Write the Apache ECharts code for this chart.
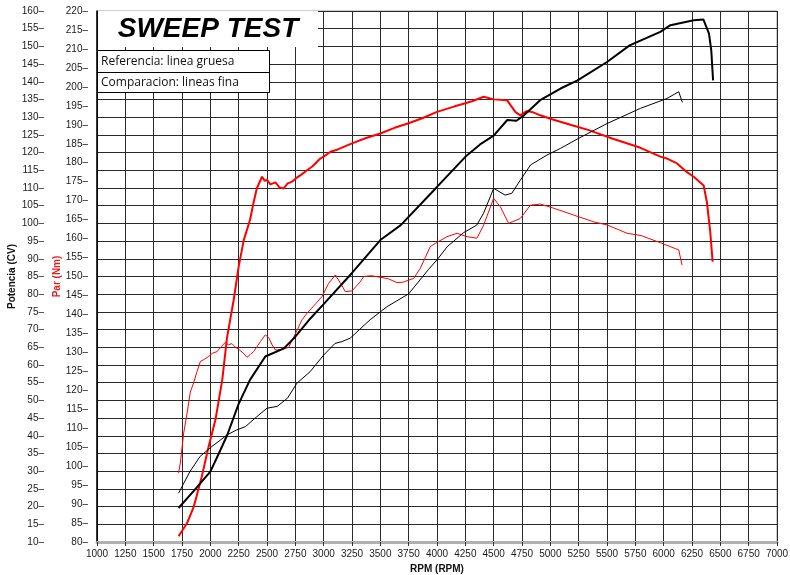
<!DOCTYPE html>
<html>
<head>
<meta charset="utf-8">
<script src="https://cdn.jsdelivr.net/npm/echarts@6/dist/echarts.min.js"></script>
<style>
html,body{margin:0;padding:0;background:#fff;}
#c{width:790px;height:575px;}
</style>
</head>
<body>
<div id="c"></div>
<script>
// ---- data ----
const rpmTicks = [1000,1250,1500,1750,2000,2250,2500,2750,3000,3250,3500,3750,4000,4250,4500,4750,5000,5250,5500,5750,6000,6250,6500,6750,7000];

// Potencia reference (thick black), CV
const powerRef = [[1720,19.6],[1850,24.3],[2000,29.9],[2075,35],[2150,40.3],[2250,49],[2350,55.8],[2485,62.4],[2650,64.7],[2750,68],[2870,72.7],[3000,77.2],[3250,86],[3500,95.3],[3680,99.5],[4000,110.3],[4250,118.8],[4380,122.3],[4500,124.8],[4620,129.2],[4700,129],[4770,130.6],[4910,134.8],[5090,138.1],[5240,140.4],[5500,145.6],[5700,150.3],[5970,154.1],[6060,156],[6265,157.4],[6350,157.6],[6400,153.6],[6420,148.9],[6436,140.4]];

// Potencia comparison (thin black), CV
const powerCmp = [[1720,23.8],[1820,29.9],[1910,34.2],[2015,37],[2150,40.3],[2235,41.7],[2310,42.6],[2410,45.4],[2500,47.8],[2590,48.3],[2680,50.6],[2765,54.9],[2880,58.1],[3000,62.8],[3100,66.1],[3160,66.6],[3235,67.6],[3410,72.8],[3560,76.5],[3750,80.1],[3925,87],[4000,89.7],[4090,93.4],[4235,97.4],[4350,99.5],[4410,102.8],[4500,109.9],[4600,108],[4660,108.5],[4735,112.2],[4825,116.5],[4970,119.3],[5090,121.2],[5236,123.8],[5500,128.2],[5795,132.5],[6030,135.3],[6133,137.2],[6165,134.2]];

// Par reference (thick red), Nm
const torqueRef = [[1720,81.5],[1795,85],[1855,89.4],[1925,97.3],[1985,105.2],[2045,112.2],[2105,122.7],[2147,133.8],[2206,143.8],[2250,152.6],[2295,159.6],[2350,164.9],[2380,169.3],[2410,173.2],[2456,176.3],[2480,175.2],[2500,175.5],[2530,174.3],[2574,174.8],[2610,173.5],[2647,173.2],[2680,174.5],[2721,175],[2760,176],[2800,176.8],[2853,178],[2900,179],[2970,181.1],[3000,181.6],[3060,182.9],[3125,183.5],[3250,185.1],[3375,186.5],[3500,187.7],[3625,189.2],[3750,190.4],[3875,191.8],[4000,193.4],[4150,194.8],[4310,196.2],[4412,197.4],[4500,196.7],[4618,196.5],[4691,193.4],[4735,192.5],[4790,193.6],[4838,193.4],[4912,192.5],[5000,191.6],[5088,190.8],[5200,189.8],[5340,188.6],[5545,186.4],[5790,184],[5971,181.6],[6030,181.1],[6118,179.8],[6206,177.5],[6265,176.3],[6353,174],[6382,169.5],[6411,161.8],[6432,153.9]];

// Par comparison (thin red), Nm
const torqueCmp = [[1720,98.2],[1735,100.8],[1765,108.7],[1795,114],[1823,119.5],[1853,122],[1882,124.9],[1912,127.6],[1950,128.2],[1985,128.9],[2020,129.8],[2059,130.2],[2095,131.5],[2132,132.6],[2160,132],[2191,132.3],[2220,131.4],[2250,130.8],[2290,129.8],[2324,128.7],[2355,129.5],[2382,130.2],[2441,132.8],[2485,134.6],[2515,133.9],[2545,132],[2574,130.6],[2633,130.8],[2691,131.3],[2765,135.8],[2809,138.6],[2853,140.3],[2920,142.5],[2985,144.7],[3044,148.2],[3103,150.4],[3150,148.2],[3191,146],[3250,146.2],[3323,148.6],[3353,150],[3420,150.2],[3500,149.8],[3570,149.4],[3647,148.4],[3700,148.5],[3794,149.5],[3850,152],[3941,157.9],[4000,159],[4088,160.5],[4177,161.4],[4265,160.5],[4353,160.1],[4412,163.6],[4500,170.6],[4559,168.4],[4632,164],[4735,165.3],[4824,168.8],[4912,169.1],[5030,168],[5206,166.2],[5382,164.4],[5500,163.6],[5677,161.4],[5800,160.8],[5971,158.9],[6133,157],[6162,153]];

const titleText = 'SWEEP TEST';
const legendLines = ['Referencia: linea gruesa', 'Comparacion: lineas fina'];

// ---- chart ----
const chart = echarts.init(document.getElementById('c'));
const labelFont = {fontFamily: 'Liberation Sans, Arial, sans-serif', fontSize: 10, color: '#1a1a1a'};

chart.setOption({
  animation: false,
  backgroundColor: '#ffffff',
  grid: {left: 97, right: 13, top: 11, bottom: 33, show: true, borderColor: '#9a9a9a', borderWidth: 1, containLabel: false, outerBoundsMode: 'none'},
  xAxis: {
    type: 'value', min: 1000, max: 7000, interval: 250,
    name: 'RPM (RPM)', nameLocation: 'middle', nameGap: 22,
    nameTextStyle: {fontFamily: 'Liberation Sans, Arial, sans-serif', fontSize: 10, fontWeight: 'bold', color: '#111'},
    axisLine: {lineStyle: {color: '#b0b0b0', width: 3}},
    axisTick: {show: true, length: 4, lineStyle: {color: '#333'}},
    axisLabel: Object.assign({margin: 7, formatter: v => String(v)}, labelFont),
    splitLine: {show: true, lineStyle: {color: '#2a2a2a', width: 1}}
  },
  yAxis: [
    {
      type: 'value', min: 10, max: 160, interval: 5, position: 'left',
      name: 'Potencia (CV)', nameLocation: 'middle', nameGap: 80, nameRotate: 90, nameMoveOverlap: false,
      nameTextStyle: {fontFamily: 'Liberation Sans, Arial, sans-serif', fontSize: 10, fontWeight: 'bold', color: '#111'},
      axisLine: {show: true, lineStyle: {color: '#000', width: 1.5}},
      axisTick: {show: false},
      axisLabel: Object.assign({margin: 53, formatter: v => v + '–'}, labelFont),
      splitLine: {show: true, lineStyle: {color: '#2a2a2a', width: 1}}
    },
    {
      type: 'value', min: 80, max: 220, interval: 5, position: 'left',
      name: 'Par (Nm)', nameLocation: 'middle', nameGap: 35, nameRotate: 90, nameMoveOverlap: false,
      nameTextStyle: {fontFamily: 'Liberation Sans, Arial, sans-serif', fontSize: 10, fontWeight: 'bold', color: '#e02020'},
      axisLine: {show: false},
      axisTick: {show: false},
      axisLabel: Object.assign({margin: 9, formatter: v => v + '–'}, labelFont),
      splitLine: {show: false}
    }
  ],
  series: [
    {type: 'line', name: 'Par ref', yAxisIndex: 1, data: torqueRef, showSymbol: false, lineStyle: {color: '#ff0000', width: 2}, z: 3},
    {type: 'line', name: 'Par cmp', yAxisIndex: 1, data: torqueCmp, showSymbol: false, lineStyle: {color: '#ff0000', width: 1}, z: 3},
    {type: 'line', name: 'Potencia ref', yAxisIndex: 0, data: powerRef, showSymbol: false, lineStyle: {color: '#000000', width: 2}, z: 4},
    {type: 'line', name: 'Potencia cmp', yAxisIndex: 0, data: powerCmp, showSymbol: false, lineStyle: {color: '#000000', width: 1}, z: 4}
  ],
  graphic: [
    {type: 'rect', z: 100, shape: {x: 98, y: 11, width: 220, height: 36}, style: {fill: '#ffffff'}},
    {type: 'text', z: 101, x: 208, y: 29, style: {text: titleText, fill: '#000', font: 'italic bold 28px "Liberation Sans", Arial, sans-serif', align: 'center', verticalAlign: 'middle'}},
    {type: 'rect', z: 100, shape: {x: 97.5, y: 50.5, width: 172, height: 42}, style: {fill: '#ffffff', stroke: '#000', lineWidth: 1}},
    {type: 'line', z: 101, shape: {x1: 97.5, y1: 72.5, x2: 269.5, y2: 72.5}, style: {stroke: '#000', lineWidth: 1}},
    {type: 'text', z: 101, x: 101, y: 62, style: {text: legendLines[0], fill: '#111', font: '12px "Open Sans", "Noto Sans", sans-serif', verticalAlign: 'middle'}},
    {type: 'text', z: 101, x: 101, y: 83, style: {text: legendLines[1], fill: '#111', font: '12px "Open Sans", "Noto Sans", sans-serif', verticalAlign: 'middle'}}
  ]
});
</script>
</body>
</html>
